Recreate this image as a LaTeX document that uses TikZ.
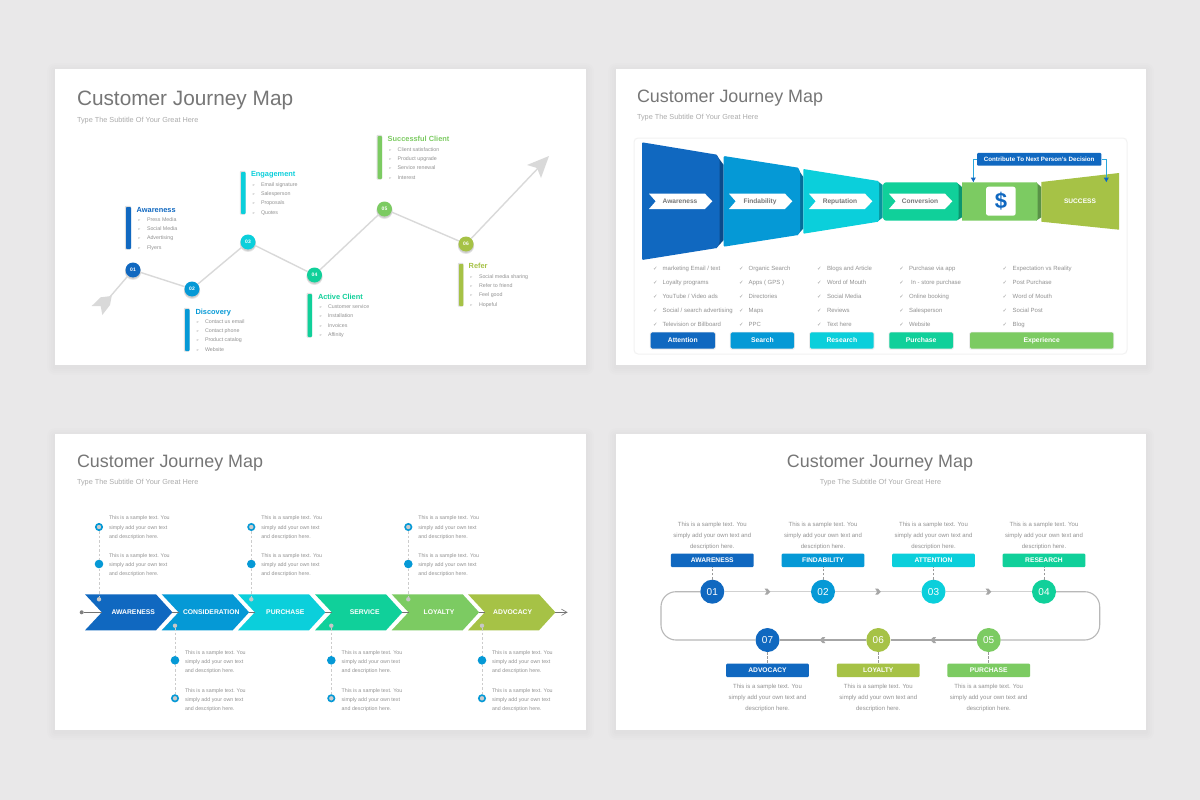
\documentclass[tikz,border=0pt]{standalone}
\usepackage{fontspec}
\setmainfont{Liberation Sans}
\newfontfamily\symf{DejaVu Sans}
\definecolor{cA}{HTML}{1068C0}
\definecolor{cB}{HTML}{0599D6}
\definecolor{cC}{HTML}{0BCFDB}
\definecolor{cD}{HTML}{10D09A}
\definecolor{cE}{HTML}{7CCB62}
\definecolor{cF}{HTML}{A6C246}
\definecolor{pagebg}{HTML}{E9E8E9}
\definecolor{ttl}{HTML}{767676}
\definecolor{subt}{HTML}{ABABAB}
\definecolor{smalltxt}{HTML}{929292}
\definecolor{lineg}{HTML}{D9D9D9}
\tikzset{
  txt/.style={inner sep=0pt,outer sep=0pt},
  titlea/.style={txt,yshift=-1.8pt,text height=15,text depth=4.4,text=ttl,font=\fontsize{20.8}{24}\selectfont},
  titleb/.style={txt,yshift=-1.5pt,text height=13,text depth=3.8,text=ttl,font=\fontsize{17.9}{22}\selectfont},
  subtitle/.style={txt,yshift=-1pt,text height=5.2,text depth=1.5,text=subt,font=\fontsize{7.3}{9}\selectfont},
  dotn/.style={circle,inner sep=0pt,minimum size=15pt,text=white,font=\bfseries\fontsize{5}{6}\selectfont},
  bigdot/.style={circle,inner sep=0pt,minimum size=24pt,text=white,font=\fontsize{10}{12}\selectfont},
  itemt/.style={txt,yshift=-.7pt,anchor=west,text height=3.9,text depth=1.1,text=smalltxt,font=\fontsize{5.3}{7}\selectfont},
  listt/.style={txt,yshift=-.7pt,anchor=west,text height=4.3,text depth=1.2,text=smalltxt,font=\fontsize{6}{7}\selectfont},
  blurb/.style={txt,yshift=-.5pt,anchor=west,align=left,text=smalltxt,font=\fontsize{5.3}{9.3}\selectfont},
  blurbc/.style={txt,yshift=-.8pt,align=center,text=smalltxt,font=\fontsize{6}{10.7}\selectfont},
  chevlab/.style={txt,text height=5,text depth=0,text=white,font=\bfseries\fontsize{6.8}{9}\selectfont},
  whitelab/.style={txt,text height=5,text depth=0,text=ttl,font=\bfseries\fontsize{6.6}{9}\selectfont},
  btn/.style={rounded corners=1.5pt},
  ring/.style={circle,inner sep=0pt,minimum size=6.4pt,draw=cB,line width=1.6pt,fill=black!20},
  soliddot/.style={circle,inner sep=0pt,minimum size=8.6pt,fill=cB},
  graydot/.style={circle,inner sep=0pt,minimum size=4.4pt,fill=black!22},
  vdash/.style={draw=black!20,line width=.7pt,dash pattern=on 2.5pt off 2pt},
  boxlab/.style={txt,text height=5,text depth=0,text=white,font=\bfseries\fontsize{6.7}{9}\selectfont},
  gline/.style={draw=#1,line width=1.1pt},
}
\newcommand\mypanel[4]{%
  \foreach \s in {8,6,4,2}{\fill[black,opacity=.006,rounded corners=\s pt] (#1-\s,#2-\s+2) rectangle (#3+\s,#4+\s+2);}
  \fill[white] (#1,#2) rectangle (#3,#4);}
% name, colour, title, title x, title y, bullet x, text x, first y, items
\newcommand\myplist[9]{%
  \node[txt,yshift=-1pt,anchor=west,text height=5.4,text depth=1.6,text=#2,font=\bfseries\fontsize{7.4}{10}\selectfont] (#1h) at (#4,#5) {#3};
  \foreach \lbl [count=\i] in {#9}{
    \node[itemt,font=\symf\fontsize{3.6}{5}\selectfont] (#1b\i) at (#6,{#8+(\i-1)*9.3}) {➢};
    \node[itemt] (#1t\i) at (#7,{#8+(\i-1)*9.3}) {\lbl};
  }}
\newcommand\myvbar[5]{%
  \fill[black,opacity=.13,rounded corners=1pt] (#1-1.2,#3-1.2) rectangle (#2,#4+.6);
  \fill[#5,rounded corners=.8pt] (#1,#3) rectangle (#2,#4);}
\newcommand\mypdot[5]{%
  \fill[black,opacity=.10] (#2,#3+1.8) circle (8.2);
  \fill[black,opacity=.10] (#2,#3+1.2) circle (7.8);
  \node[dotn,fill=#4] (#1) at (#2,#3) {#5};}
% name, check x, text x, items
\newcommand\mychk[4]{%
  \foreach \lbl [count=\i] in {#4}{
    \node[listt,text=black!40,font=\symf\fontsize{5.4}{6}\selectfont] (#1c\i) at (#2,{268+(\i-1)*14.05}) {✓};
    \node[listt] (#1t\i) at (#3,{268+(\i-1)*14.05}) {\lbl};
  }}
\newcommand\mybutton[5]{%
  \fill[black,opacity=.08,btn] (#2-.8,332-.2) rectangle (#3+.8,349.6);
  \fill[#4,btn] (#2,332.3) rectangle (#3,348.7);
  \node[boxlab,font=\bfseries\fontsize{6.8}{9}\selectfont] (#1) at ({(#2+#3)/2},340.4) {#5};}
\newcommand\mywhitechev[3]{%
  \fill[white] (#1,193.7) -- (#1+56,193.7) -- (#1+63.3,201.3) -- (#1+56,209) -- (#1,209) -- (#1+6.7,201.3) -- cycle;
  \node[whitelab] (#2) at (#1+31,201.3) {#3};}
% x of left corners, colour, name, label, label x
\newcommand\myarrowch[5]{%
  \fill[#2] (#1,594.3) -- (#1+71,594.3) -- (#1+87.4,612.3) -- (#1+71,630.3) -- (#1,630.3) -- (#1+16.8,612.3) -- cycle;
  \node[chevlab] (#3) at (#5,612) {#4};}
\newcommand\mysamp{This is a sample text. You\\simply add your own text\\and description here.}
\newcommand\mysampc{This is a sample text. You\\simply add your own text and\\description here.}
\newcommand\mytopg[3]{%
  \node[ring] (#1r) at (#2,527) {};
  \node[soliddot] (#1s) at (#2,564) {};
  \node[graydot] (#1g) at (#2,599.3) {};
  \draw[vdash] (#1r) -- (#1s);
  \draw[vdash] (#1s) -- (#1g);
  \node[blurb] (#1a) at (#3,527.2) {\mysamp};
  \node[blurb] (#1b) at (#3,564.5) {\mysamp};}
\newcommand\mybotg[3]{%
  \node[graydot] (#1g) at (#2,625.7) {};
  \node[soliddot] (#1s) at (#2,660.3) {};
  \node[ring] (#1r) at (#2,698.3) {};
  \draw[vdash] (#1g) -- (#1s);
  \draw[vdash] (#1s) -- (#1r);
  \node[blurb] (#1a) at (#3,661.7) {\mysamp};
  \node[blurb] (#1b) at (#3,699.7) {\mysamp};}
% name, cx, circle y, colour, number, box label, box far offset, box near offset, blurb offset (signed)
\newcommand\mystep[9]{%
  \node[bigdot,fill=#4] (#1) at (#2,#3) {#5};
  \fill[#4,rounded corners=1pt] (#2-41.4,#3+#7) rectangle (#2+41.4,#3+#8);
  \node[boxlab] (#1l) at (#2,{#3+(#7+#8)/2}) {#6};
  \coordinate (#1k) at (#2,#3+#8);
  \draw[black!40,line width=.6pt,dash pattern=on 2.5pt off 1.6pt] (#1) -- (#1k);
  \node[blurbc] (#1d) at (#2,#3+#9) {\mysampc};}
\newcommand\myrch[2]{\fill[black!35] (#1-2.8,#2-3) -- (#1,#2-3) -- (#1+2.8,#2) -- (#1,#2+3) -- (#1-2.8,#2+3) -- (#1-.8,#2) -- cycle;}
\newcommand\mylch[2]{\fill[black!35] (#1+2.8,#2-3) -- (#1,#2-3) -- (#1-2.8,#2) -- (#1,#2+3) -- (#1+2.8,#2+3) -- (#1+.8,#2) -- cycle;}
\begin{document}
\begin{tikzpicture}[x=1pt,y=-1pt]
\fill[pagebg] (0,0) rectangle (1200,800);
\useasboundingbox (0,0) rectangle (1200,800);
\mypanel{55}{69}{586}{365}
\mypanel{616}{69}{1146}{365}
\mypanel{55}{434}{586}{730}
\mypanel{616}{434}{1146}{730}

%% ---------- panel 1
\node[titlea,anchor=west] (t1) at (77,98) {Customer Journey Map};
\node[subtitle,anchor=west] (s1) at (77,119.5) {Type The Subtitle Of Your Great Here};
\mypdot{n1}{133}{270}{cA}{01}
\mypdot{n2}{192}{289}{cB}{02}
\mypdot{n3}{248}{242}{cC}{03}
\mypdot{n4}{314.5}{275}{cD}{04}
\mypdot{n5}{384.5}{209}{cE}{05}
\mypdot{n6}{466}{244}{cF}{06}
\coordinate (tail) at (103,305);
\coordinate (head) at (541,165);
\fill[lineg] (91.7,306) -- (100.7,297.3) -- (111.7,296) -- (110,305) -- (102.3,315) -- (100.7,306) -- cycle;
\fill[lineg] (549,156) -- (527,165) -- (537,168) -- (541,178) -- cycle;
\draw[lineg,line width=1.4pt] (tail) -- (n1);
\draw[lineg,line width=1.4pt] (n1) -- (n2);
\draw[lineg,line width=1.4pt] (n2) -- (n3);
\draw[lineg,line width=1.4pt] (n3) -- (n4);
\draw[lineg,line width=1.4pt] (n4) -- (n5);
\draw[lineg,line width=1.4pt] (n5) -- (n6);
\draw[lineg,line width=1.4pt] (n6) -- (head);
\myvbar{126}{131}{207}{249}{cA}
\myvbar{185}{189.5}{309}{351}{cB}
\myvbar{241}{245.5}{172}{214}{cC}
\myvbar{307.7}{312}{294}{337}{cD}
\myvbar{377.7}{382}{136}{179}{cE}
\myvbar{459}{463.3}{264}{306}{cF}
\myplist{la}{cA}{Awareness}{136.7}{209.5}{137.5}{147}{219}{Press Media,Social Media,Advertising,Flyers}
\myplist{lb}{cB}{Discovery}{195.5}{311.5}{196}{205}{321}{Contact us email,Contact phone,Product catalog,Website}
\myplist{lc}{cC}{Engagement}{251}{174}{252}{261}{184}{Email signature,Salesperson,Proposals,Quotes}
\myplist{ld}{cD}{Active Client}{318}{296.5}{319}{328}{306.5}{Customer service,Installation,Invoices,Affinity}
\myplist{le}{cE}{Successful Client}{387.7}{139}{388.5}{397.7}{149}{Client satisfaction,Product upgrade,Service renewal,Interest}
\myplist{lf}{cF}{Refer}{468.7}{266}{469.5}{479}{276}{Social media sharing,Refer to friend,Feel good,Hopeful}

%% ---------- panel 2
\node[titleb,anchor=west] (t2) at (637,96) {Customer Journey Map};
\node[subtitle,anchor=west] (s2) at (637,117) {Type The Subtitle Of Your Great Here};
\draw[black!5,line width=1pt,rounded corners=4pt] (634,138) rectangle (1127,354);
% funnel folds
\fill[cA!72!black] (716,154.5) -- (723.7,165) -- (723.7,240) -- (716,248.5) -- cycle;
\fill[cB!72!black] (797,167.5) -- (803.3,177) -- (803.3,228.5) -- (797,235.5) -- cycle;
\fill[cC!72!black] (877,180.7) -- (882.7,185) -- (882.7,217.5) -- (877,222) -- cycle;
\fill[cD!72!black] (956.5,182.3) -- (962,187) -- (962,217.3) -- (956.5,220.7) -- cycle;
\fill[cE!72!black] (1036,182.3) -- (1041.3,187) -- (1041.3,217.3) -- (1036,220.7) -- cycle;
% funnel faces
\fill[cA,rounded corners=1pt] (642,142.3) -- (717,154.7) -- (719.7,161) -- (719.7,242) -- (717,248) -- (642,260) -- cycle;
\fill[cB,rounded corners=1pt] (723.7,156) -- (798.3,167.7) -- (800,172) -- (800,231) -- (798.3,235) -- (723.7,246.7) -- cycle;
\fill[cC,rounded corners=.8pt] (803.3,169) -- (878.3,181) -- (879,184) -- (879,219) -- (878.3,221.7) -- (803.3,233.7) -- cycle;
\fill[cD,rounded corners=1pt] (882.7,185) -- (885,182.3) -- (957,182.3) -- (958.5,185) -- (958.5,218) -- (957,220.7) -- (885,220.7) -- (882.7,218) -- cycle;
\fill[cE] (962,182.3) -- (1036.7,182.3) -- (1037.7,185) -- (1037.7,218) -- (1036.7,220.7) -- (962,220.7) -- cycle;
\fill[cF] (1041.3,182) -- (1119,173) -- (1119,229.7) -- (1041.3,221.7) -- cycle;
\mywhitechev{649}{fa}{Awareness}
\mywhitechev{729}{fb}{Findability}
\mywhitechev{809}{fc}{Reputation}
\mywhitechev{889}{fd}{Conversion}
\node[txt,text height=5,text depth=0,text=white,font=\bfseries\fontsize{6.6}{9}\selectfont] (fs) at (1080,201.3) {SUCCESS};
\fill[white,rounded corners=2.5pt] (986,186.7) rectangle (1015.7,215.7);
\node[txt,text=cA,font=\bfseries\fontsize{22}{24}\selectfont] (dollar) at (1001,201.2) {\$};
% callout
\coordinate (ca) at (973.3,182);
\coordinate (cb) at (1106.3,182);
\coordinate (cat) at (973.3,159.3);
\coordinate (cbt) at (1106.3,159.3);
\node[rounded corners=1pt,fill=cA,text=white,inner sep=0pt,minimum width=124.3pt,minimum height=12.7pt,font=\bfseries\fontsize{6.2}{8}\selectfont] (call) at (1039.2,159.3) {Contribute To Next Person's Decision};
\draw[cB!85!white,line width=.6pt] (call.west) -- (cat) -- (ca);
\draw[cB!85!white,line width=.6pt] (call.east) -- (cbt) -- (cb);
\fill[cA] (970.8,177.7) -- (975.8,177.7) -- (ca) -- cycle;
\fill[cA] (1103.8,177.7) -- (1108.8,177.7) -- (cb) -- cycle;
\mychk{ka}{653}{662.7}{marketing Email / text,Loyalty programs,YouTube / Video ads,Social / search advertising,Television or Billboard}
\mychk{kb}{739}{748.7}{Organic Search,Apps ( GPS ),Directories,Maps,PPC}
\mychk{kc}{817}{827}{Blogs and Article,Word of Mouth,Social Media,Reviews,Text here}
\mychk{kd}{899.3}{909}{Purchase via app,\hspace{2pt}In - store purchase,Online booking,Salesperson,Website}
\mychk{ke}{1002.7}{1012.7}{Expectation vs Reality,Post Purchase,Word of Mouth,Social Post,Blog}
\mybutton{ba}{650.7}{715}{cA}{Attention}
\mybutton{bb}{730.7}{794}{cB}{Search}
\mybutton{bc}{810}{873.7}{cC}{Research}
\mybutton{bd}{889.3}{953}{cD}{Purchase}
\mybutton{be}{970}{1113.3}{cE}{Experience}

%% ---------- panel 3
\node[titleb,anchor=west] (t3) at (77,461) {Customer Journey Map};
\node[subtitle,anchor=west] (s3) at (77,482) {Type The Subtitle Of Your Great Here};
\myarrowch{85}{cA}{ca1}{AWARENESS}{133.3}
\myarrowch{161.7}{cB}{ca2}{CONSIDERATION}{211.3}
\myarrowch{238}{cC}{ca3}{PURCHASE}{285.3}
\myarrowch{315}{cD}{ca4}{SERVICE}{364.7}
\myarrowch{391.7}{cE}{ca5}{LOYALTY}{439}
\myarrowch{468}{cF}{ca6}{ADVOCACY}{512.7}
\node[circle,inner sep=0pt,minimum size=4pt,fill=black!50] (start) at (81.7,612.3) {};
\coordinate (no1) at (102,612.3);
\coordinate (ti1) at (172.4,612.3); \coordinate (no2) at (178.5,612.3);
\coordinate (ti2) at (249.1,612.3); \coordinate (no3) at (254.8,612.3);
\coordinate (ti3) at (325.4,612.3); \coordinate (no4) at (331.8,612.3);
\coordinate (ti4) at (402.4,612.3); \coordinate (no5) at (408.5,612.3);
\coordinate (ti5) at (479.1,612.3); \coordinate (no6) at (484.8,612.3);
\coordinate (ti6) at (555.4,612.3); \coordinate (endp) at (567,612.3);
\draw[black!55,line width=.8pt] (start) -- (no1);
\draw[black!55,line width=.8pt] (ti1) -- (no2);
\draw[black!55,line width=.8pt] (ti2) -- (no3);
\draw[black!55,line width=.8pt] (ti3) -- (no4);
\draw[black!55,line width=.8pt] (ti4) -- (no5);
\draw[black!55,line width=.8pt] (ti5) -- (no6);
\draw[black!55,line width=.8pt] (ti6) -- (endp);
\draw[black!55,line width=.6pt] (561.5,609.2) -- (endp) -- (561.5,615.4);
\mytopg{ga}{99}{109}
\mytopg{gb}{251.3}{261.3}
\mytopg{gc}{408.3}{418.3}
\mybotg{ha}{175}{185}
\mybotg{hb}{331.3}{341.7}
\mybotg{hc}{482}{492}

%% ---------- panel 4
\node[titleb] (t4) at (880,461) {Customer Journey Map};
\node[subtitle] (s4) at (880.5,482) {Type The Subtitle Of Your Great Here};
\mystep{c1}{712.3}{591.7}{cA}{01}{AWARENESS}{-38}{-24.7}{-56.7}
\mystep{c2}{823}{591.7}{cB}{02}{FINDABILITY}{-38}{-24.7}{-56.7}
\mystep{c3}{933.5}{591.7}{cC}{03}{ATTENTION}{-38}{-24.7}{-56.7}
\mystep{c4}{1044}{591.7}{cD}{04}{RESEARCH}{-38}{-24.7}{-56.7}
\mystep{c5}{988.7}{640}{cE}{05}{PURCHASE}{37}{23.7}{57.3}
\mystep{c6}{878.3}{640}{cF}{06}{LOYALTY}{37}{23.7}{57.3}
\mystep{c7}{767.5}{640}{cA}{07}{ADVOCACY}{37}{23.7}{57.3}
\coordinate (rt) at (1099.7,591.7);
\coordinate (rb) at (1099.7,640);
\coordinate (lb) at (661,640);
\coordinate (lt) at (661,591.7);
\draw[gline=black!18] (c1) -- (c2);
\draw[gline=black!18] (c2) -- (c3);
\draw[gline=black!18] (c3) -- (c4);
\draw[gline=black!35] (c5) -- (c6);
\draw[gline=black!35] (c6) -- (c7);
\draw[gline=black!28,rounded corners=15pt] (c4) -- (rt) -- (rb) -- (c5);
\draw[gline=black!28,rounded corners=15pt] (c7) -- (lb) -- (lt) -- (c1);
\myrch{767.5}{591.7}
\myrch{878}{591.7}
\myrch{988.5}{591.7}
\mylch{822.5}{640}
\mylch{933.3}{640}
\end{tikzpicture}
\end{document}
